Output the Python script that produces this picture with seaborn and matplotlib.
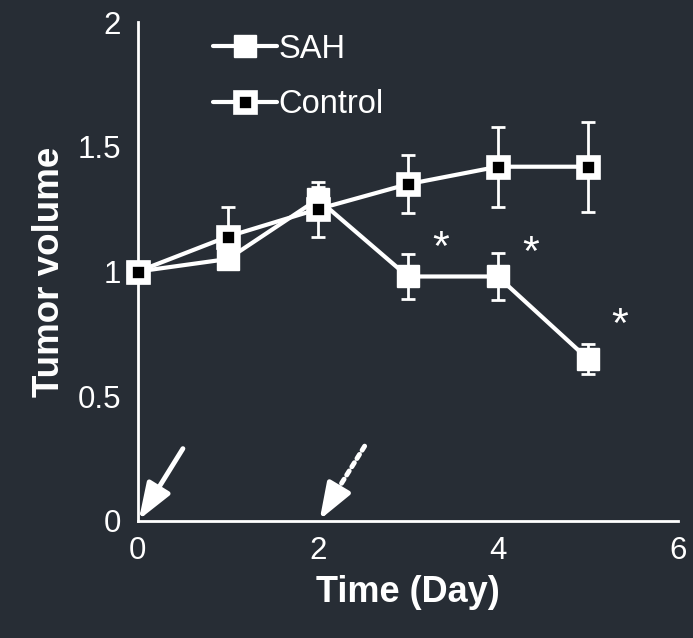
import matplotlib
matplotlib.use("Agg")
import matplotlib.pyplot as plt
import seaborn as sns

# values
days = [0, 1, 2, 3, 4, 5]
sah = [1.00, 1.05, 1.29, 0.98, 0.98, 0.65]
sah_err = [0.0, 0.03, 0.05, 0.09, 0.095, 0.06]
control = [1.00, 1.14, 1.25, 1.35, 1.42, 1.42]
control_err = [0.0, 0.12, 0.11, 0.115, 0.16, 0.18]
star_days = [3, 4, 5]
star_y = [1.09, 1.07, 0.78]

bg = "#272d35"
fg = "white"

sns.set_style("dark", {"axes.facecolor": bg, "figure.facecolor": bg})
plt.rcParams["font.family"] = ["Liberation Sans", "DejaVu Sans"]

fig = plt.figure(figsize=(6.93, 6.38), dpi=100)
ax = fig.add_axes([0.199, 0.1834, 0.779, 0.7821])

# error bars first so markers sit on top
ax.errorbar(days, control, yerr=control_err, fmt="none", ecolor=fg,
            elinewidth=2, capsize=4.7, capthick=2, zorder=2, clip_on=False)
ax.errorbar(days, sah, yerr=sah_err, fmt="none", ecolor=fg,
            elinewidth=2, capsize=4.7, capthick=2, zorder=2, clip_on=False)

sns.lineplot(x=days, y=sah, ax=ax, color=fg, linewidth=3, marker="s",
             markersize=16, markerfacecolor=fg, markeredgecolor=fg,
             markeredgewidth=1, label="SAH", zorder=4, clip_on=False)
sns.lineplot(x=days, y=control, ax=ax, color=fg, linewidth=3, marker="s",
             markersize=12.5, markerfacecolor="black", markeredgecolor=fg,
             markeredgewidth=4.8, label="Control", zorder=5, clip_on=False)

for d, y in zip(star_days, star_y):
    ax.text(d + 0.36, y, "*", color=fg, fontsize=31, ha="center", va="center")

# treatment arrows: solid at day 0, dotted at day 2
head = "-|>,head_length=1.1,head_width=0.4"
ax.annotate("", xy=(0.01, 0.005), xytext=(0.5, 0.29),
            arrowprops=dict(arrowstyle=head, mutation_scale=20, color=fg,
                            lw=3.5, shrinkA=0, shrinkB=0),
            annotation_clip=False)
ax.annotate("", xy=(2.22, 0.126), xytext=(2.52, 0.30),
            arrowprops=dict(arrowstyle="-", color=fg, lw=3.5,
                            linestyle=(0, (1, 1)), shrinkA=0, shrinkB=0),
            annotation_clip=False)
ax.annotate("", xy=(2.02, 0.005), xytext=(2.22, 0.126),
            arrowprops=dict(arrowstyle=head, mutation_scale=20, color=fg,
                            lw=3.5, shrinkA=0, shrinkB=0),
            annotation_clip=False)

ax.set_xlim(0, 6)
ax.set_ylim(0, 2)
ax.set_xticks([0, 2, 4, 6])
ax.set_yticks([0, 0.5, 1, 1.5, 2])
ax.set_yticklabels(["0", "0.5", "1", "1.5", "2"])
ax.grid(False)

for side in ["top", "right"]:
    ax.spines[side].set_visible(False)
for side in ["left", "bottom"]:
    ax.spines[side].set_visible(True)
    ax.spines[side].set_color(fg)
    ax.spines[side].set_linewidth(2)

ax.tick_params(axis="both", colors=fg, labelcolor=fg, labelsize=22.5,
               direction="out", length=7, width=2, pad=4)
ax.tick_params(axis="y", pad=5)

ax.set_xlabel("Time (Day)", color=fg, fontsize=26, fontweight="bold", labelpad=6)
ax.set_ylabel("Tumor volume", color=fg, fontsize=26.5, fontweight="bold", labelpad=8)

leg = ax.legend(loc="upper left", bbox_to_anchor=(0.085, 1.035), frameon=False,
                fontsize=23.5, handlelength=1.95, handletextpad=0.05,
                labelspacing=0.75, labelcolor=fg)

fig.savefig("out.png", dpi=100, facecolor=bg)
